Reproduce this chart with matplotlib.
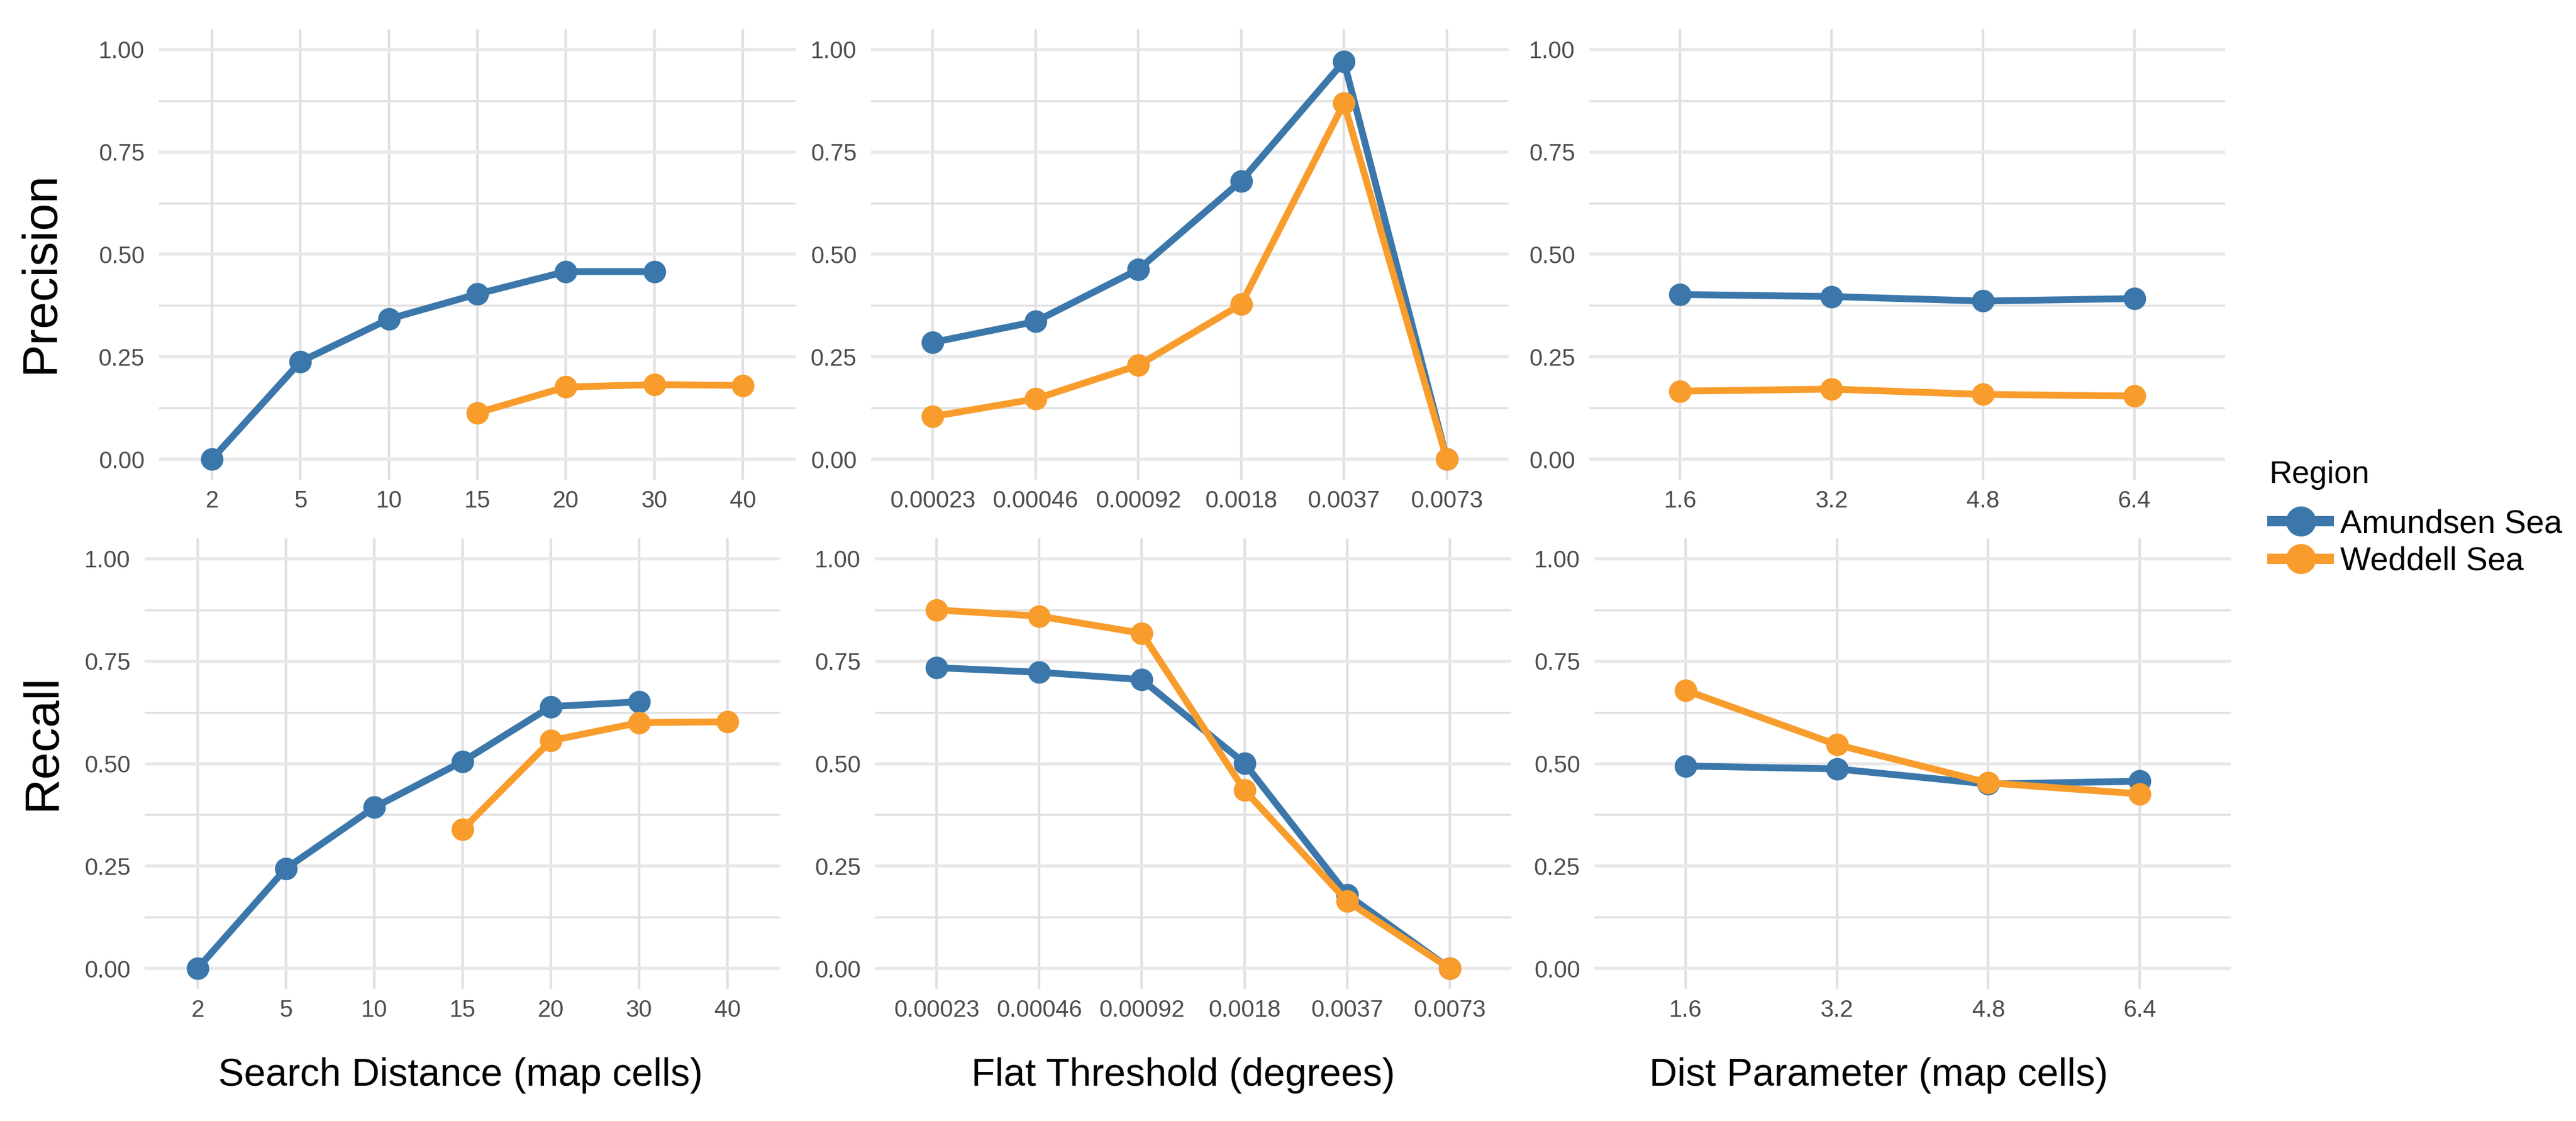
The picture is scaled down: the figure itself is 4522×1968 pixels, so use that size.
import matplotlib
matplotlib.use('Agg')
import matplotlib.pyplot as plt
from matplotlib.lines import Line2D
import numpy as np

plt.rcParams['font.family'] = ['Liberation Sans', 'DejaVu Sans']

# ---- data ----
search_dist = ['2', '5', '10', '15', '20', '30', '40']
flat_thresh = ['0.00023', '0.00046', '0.00092', '0.0018', '0.0037', '0.0073']
dist_param = ['1.6', '3.2', '4.8', '6.4']

# precision (None = no point)
prec_search_amundsen = [0.00, 0.238, 0.342, 0.403, 0.458, 0.458, None]
prec_search_weddell = [None, None, None, 0.113, 0.176, 0.182, 0.180]
prec_flat_amundsen = [0.285, 0.336, 0.463, 0.679, 0.971, 0.00]
prec_flat_weddell = [0.104, 0.147, 0.229, 0.378, 0.869, 0.00]
prec_dist_amundsen = [0.402, 0.397, 0.386, 0.392]
prec_dist_weddell = [0.166, 0.171, 0.158, 0.154]

# recall
rec_search_amundsen = [0.00, 0.244, 0.393, 0.505, 0.639, 0.651, None]
rec_search_weddell = [None, None, None, 0.339, 0.556, 0.600, 0.602]
rec_flat_amundsen = [0.734, 0.723, 0.705, 0.501, 0.180, 0.00]
rec_flat_weddell = [0.875, 0.860, 0.818, 0.435, 0.164, 0.00]
rec_dist_amundsen = [0.494, 0.487, 0.450, 0.457]
rec_dist_weddell = [0.679, 0.546, 0.453, 0.426]

regions = ['Amundsen Sea', 'Weddell Sea']
colors = {'Amundsen Sea': '#3B77AA', 'Weddell Sea': '#F89C2C'}

col_labels = ['Search Distance (map cells)', 'Flat Threshold (degrees)', 'Dist Parameter (map cells)']
row_labels = ['Precision', 'Recall']

W, H = 4522, 1968
fig = plt.figure(figsize=(W / 100, H / 100), dpi=100)
fig.patch.set_facecolor('white')


def px_axes(l, t, r, b):
    return fig.add_axes([l / W, 1 - b / H, (r - l) / W, (b - t) / H])


def draw_panel(ax, cats, a_vals, w_vals):
    n = len(cats)
    x = np.arange(n)
    for name, vals in [('Amundsen Sea', a_vals), ('Weddell Sea', w_vals)]:
        xs = [xi for xi, v in zip(x, vals) if v is not None]
        ys = [v for v in vals if v is not None]
        ax.plot(xs, ys, color=colors[name], lw=8.6, marker='o', ms=27.5,
                solid_capstyle='butt', zorder=3)
    ax.set_xlim(-0.6, n - 0.4)
    ax.set_ylim(-0.05, 1.05)
    ax.set_xticks(x)
    ax.set_xticklabels(cats)
    ax.set_yticks([0, 0.25, 0.5, 0.75, 1.0])
    ax.set_yticklabels(['0.00', '0.25', '0.50', '0.75', '1.00'])
    ax.set_yticks([0.125, 0.375, 0.625, 0.875], minor=True)
    ax.grid(True, which='major', axis='y', color='#e8e8e8', lw=4.0, zorder=0)
    ax.grid(True, which='minor', axis='y', color='#e0e0e0', lw=2.5, zorder=0)
    ax.grid(True, which='major', axis='x', color='#e0e0e0', lw=3.2, zorder=0)
    for s in ax.spines.values():
        s.set_visible(False)
    ax.tick_params(which='both', length=0, labelsize=30, labelcolor='#4d4d4d')
    ax.tick_params(axis='y', pad=18)
    ax.tick_params(axis='x', pad=13)
    ax.set_axisbelow(True)


top_cols = [(279, 1397), (1529, 2648), (2790, 3906)]
bot_cols = [(254, 1370), (1536, 2653), (2799, 3916)]

cats_list = [search_dist, flat_thresh, dist_param]
prec = [(prec_search_amundsen, prec_search_weddell),
        (prec_flat_amundsen, prec_flat_weddell),
        (prec_dist_amundsen, prec_dist_weddell)]
rec = [(rec_search_amundsen, rec_search_weddell),
       (rec_flat_amundsen, rec_flat_weddell),
       (rec_dist_amundsen, rec_dist_weddell)]

for i in range(3):
    ax = px_axes(top_cols[i][0], 51, top_cols[i][1], 842)
    draw_panel(ax, cats_list[i], *prec[i])
    ax = px_axes(bot_cols[i][0], 945, bot_cols[i][1], 1736)
    draw_panel(ax, cats_list[i], *rec[i])

# row titles
fig.text(72 / W, 1 - 478 / H, row_labels[0], rotation=90, fontsize=62,
         ha='center', va='center', color='black')
fig.text(75 / W, 1 - 1302 / H, row_labels[1], rotation=90, fontsize=62,
         ha='center', va='center', color='black')

# column (x axis) titles
for xc, lab in zip([808, 2077, 3298], col_labels):
    fig.text(xc / W, 1 - 1888 / H, lab, fontsize=49, ha='center', va='center',
             color='black')

# legend
fig.text(3983 / W, 1 - 834 / H, 'Region', fontsize=40, ha='left',
         va='center', color='black')
handles = [Line2D([0], [0], color=colors[r], lw=13, marker='o', ms=37,
                  solid_capstyle='butt')
           for r in regions]
leg = fig.legend(handles, regions, loc='center left',
                 bbox_to_anchor=(3952 / W, 1 - 953 / H), frameon=False,
                 fontsize=41, handlelength=2.04, borderpad=0,
                 handletextpad=0.2, labelspacing=0.2)

fig.savefig('out.png', dpi=100, facecolor='white')
